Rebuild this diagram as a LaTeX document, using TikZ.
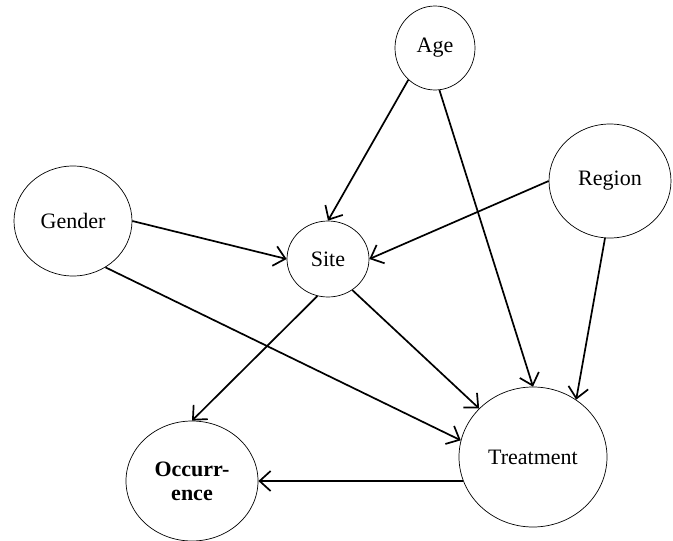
\documentclass[tikz,border=0pt]{standalone}
\usepackage{fontspec}
\setmainfont{Liberation Serif}
\usetikzlibrary{shapes,arrows.meta}
\tikzset {
varnode/.style={shape=ellipse,draw,line width=0.7pt,inner sep=0pt,font=\fontsize{22}{24}\selectfont,align=center},
outnode/.style={varnode,font=\fontsize{22}{24}\selectfont\bfseries}
}

\begin{document}
\begin{tikzpicture}
[x=1pt,y=-1pt,>={Straight Barb[length=11pt,width=20pt]},line width=1.7pt]
\useasboundingbox (0,0) rectangle (673,541);
\node[varnode,minimum width=80pt,minimum height=84pt] (age) at (435,48) {Age};
\node[varnode,minimum width=122pt,minimum height=114pt] (region) at (610,181) {Region};
\node[varnode,minimum width=118pt,minimum height=110pt] (gender) at (73,221) {Gender};
\node[varnode,minimum width=82pt,minimum height=76pt] (site) at (328,259) {Site};
\node[varnode,minimum width=148pt,minimum height=140pt] (treatment) at (533,457) {Treatment};
\node[outnode,minimum width=132pt,minimum height=120pt] (occurrence) at (192,481) {Occurr-\\ence};

\draw[->] (age.-130) to (site.north);
\draw[->] (age.-84) to (treatment.north);
\draw[->] (region.west) to (site.east);
\draw[->] (region.265) to (treatment.53);
\draw[->] (gender.east) to (site.west);
\draw[->] (gender.-55) to (treatment.167);
\draw[->] (site.-106) to (occurrence.north);
\draw[->] (site.-52) to (treatment.138);
\draw[->] (treatment.199) to (occurrence.east);
\end{tikzpicture}
\end{document}
